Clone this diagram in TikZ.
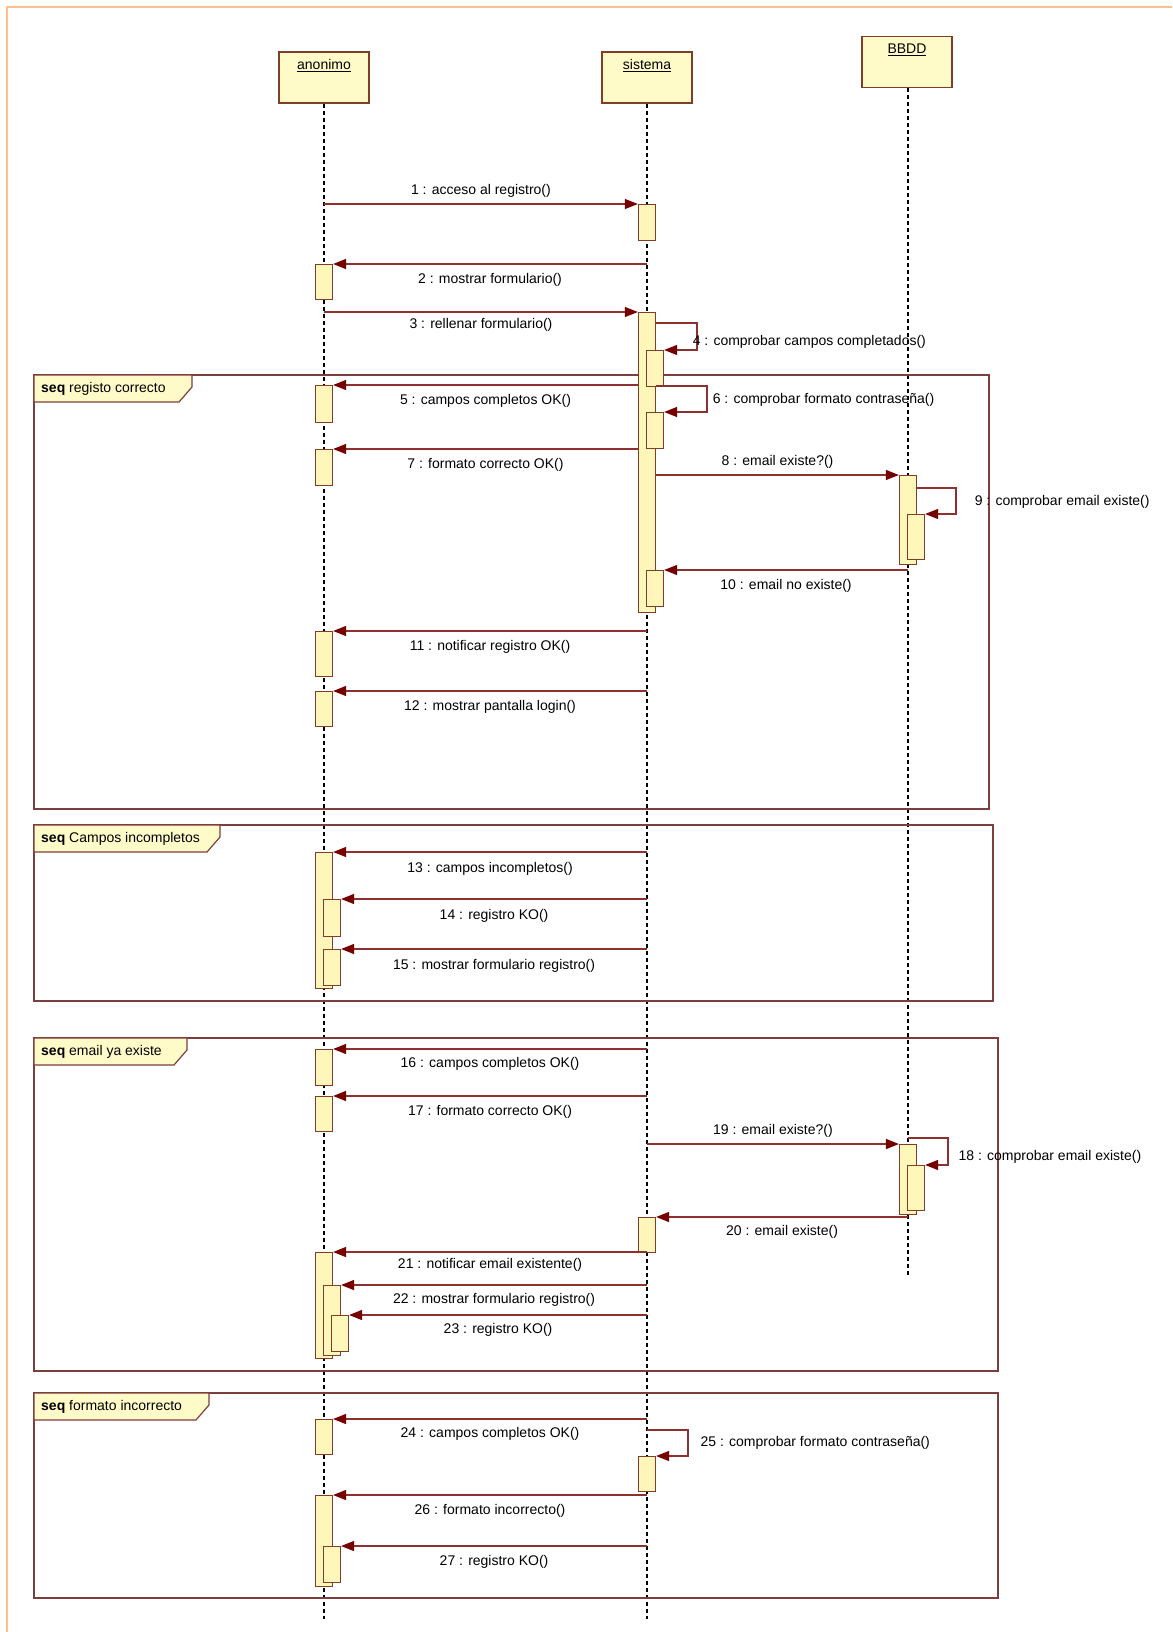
\documentclass[tikz,border=0pt]{standalone}
\usepackage{fontspec}
\setmainfont{Liberation Sans}
\usetikzlibrary{arrows.meta,positioning}
\definecolor{boxline}{RGB}{128,62,40}
\definecolor{boxfill}{RGB}{255,251,200}
\definecolor{actfill}{RGB}{255,247,185}
\definecolor{msgred}{RGB}{140,48,48}
\definecolor{tipred}{RGB}{118,0,0}
\definecolor{framered}{RGB}{125,62,62}
\definecolor{pageorange}{RGB}{255,192,142}

\begin{document}
\begin{tikzpicture}[x=1pt,y=-1pt,
        obj/.style={draw=boxline,fill=boxfill,line width=1.4pt,minimum width=90pt,minimum height=51pt,inner sep=0pt},
        act/.style={draw=boxline,fill=actfill,line width=1.2pt,minimum width=17pt,inner sep=0pt,anchor=north},
        msg/.style={draw=msgred,line width=1.3pt,-{Triangle[length=13pt,width=10pt,color=tipred]}},
        life/.style={dash pattern=on 4pt off 3pt,line width=1.1pt},
        frame/.style={draw=framered,line width=1.4pt},
        tag/.style={draw=framered,fill=boxfill,line width=1.2pt},
        lbl/.style={font=\fontsize{14}{16}\selectfont,inner sep=0pt,text height=10pt,text depth=3pt}
    ]
    \useasboundingbox (0,0) rectangle (1172,1632);
    \draw[pageorange,line width=2.5pt] (7,1632) -- (7,7) -- (1172,7);

    % --- Objects and lifelines ---
    \node[obj] (anon) at (324,77.5) {};
    \node[obj] (sis) at (647,77.5) {};
    \node[obj] (bbdd) at (907,62) {};
    \node[lbl,below=8pt of anon.north] (anonName) {\underline{anonimo}};
    \node[lbl,below=8pt of sis.north] (sisName) {\underline{sistema}};
    \node[lbl,below=8pt of bbdd.north] (bbddName) {\underline{BBDD}};
    \coordinate (anonEnd) at (324,1619);
    \coordinate (sisEnd) at (647,1619);
    \coordinate (bbddEnd) at (908,1278);
    \draw[life] (anon.south) -- (anonEnd);
    \draw[life] (sis.south) -- (sisEnd);
    \draw[life] (bbddEnd |- bbdd.south) -- (bbddEnd);

    % --- Combined fragments ---
    \draw[frame] (34,375) rectangle (989,809);
    \draw[tag] (34,375) -- (192,375) -- (192,387) -- (179,402) -- (34,402) -- cycle;
    \node[lbl,anchor=west] (seq1) at (41,389) {\textbf{seq} registo correcto};
    \draw[frame] (34,825) rectangle (993,1001);
    \draw[tag] (34,825) -- (220,825) -- (220,837) -- (207,852) -- (34,852) -- cycle;
    \node[lbl,anchor=west] (seq2) at (41,839) {\textbf{seq} Campos incompletos};
    \draw[frame] (34,1038) rectangle (998,1371);
    \draw[tag] (34,1038) -- (187,1038) -- (187,1050) -- (174,1065) -- (34,1065) -- cycle;
    \node[lbl,anchor=west] (seq3) at (41,1052) {\textbf{seq} email ya existe};
    \draw[frame] (34,1393) rectangle (998,1598);
    \draw[tag] (34,1393) -- (209,1393) -- (209,1405) -- (196,1420) -- (34,1420) -- cycle;
    \node[lbl,anchor=west] (seq4) at (41,1407) {\textbf{seq} formato incorrecto};

    % --- Activations ---
    \node[act,minimum height=35pt] (a2) at (324,264) {};
    \node[act,minimum height=37pt] (a5) at (324,385) {};
    \node[act,minimum height=36pt] (a7) at (324,449) {};
    \node[act,minimum height=45pt] (a11) at (324,631) {};
    \node[act,minimum height=35pt] (a12) at (324,691) {};
    \node[act,minimum height=136pt] (a13) at (324,852) {};
    \node[act,minimum height=37pt] (a14) at (332,899) {};
    \node[act,minimum height=36pt] (a15) at (332,949) {};
    \node[act,minimum height=36pt] (a16) at (324,1049) {};
    \node[act,minimum height=35pt] (a17) at (324,1096) {};
    \node[act,minimum height=106pt] (a21) at (324,1252) {};
    \node[act,minimum height=70pt] (a22) at (332,1285) {};
    \node[act,minimum height=36pt] (a23) at (340,1315) {};
    \node[act,minimum height=35pt] (a24) at (324,1419) {};
    \node[act,minimum height=91pt] (a26) at (324,1495) {};
    \node[act,minimum height=36pt] (a27) at (332,1546) {};
    \node[act,minimum height=36pt] (s1) at (647,204) {};
    \node[act,minimum height=300pt] (s3) at (647,312) {};
    \node[act,minimum height=36pt] (s4) at (655,350) {};
    \node[act,minimum height=36pt] (s6) at (655,412) {};
    \node[act,minimum height=36pt] (s10) at (655,570) {};
    \node[act,minimum height=35pt] (s20) at (647,1217) {};
    \node[act,minimum height=35pt] (s25) at (647,1456) {};
    \node[act,minimum height=89pt] (b8) at (908,475) {};
    \node[act,minimum height=45pt] (b9) at (916,514) {};
    \node[act,minimum height=70pt] (b19) at (908,1144) {};
    \node[act,minimum height=45pt] (b18) at (916,1165) {};

    % --- Messages: registro correcto ---
    \draw[msg] (anon |- s1.north) -- (s1.north west) node[midway,above=5.5pt,lbl] {1 : acceso al registro()};
    \draw[msg] (sis |- a2.north) -- (a2.north east) node[midway,below=8.5pt,lbl] {2 : mostrar formulario()};
    \draw[msg] (anon |- s3.north) -- (s3.north west) node[midway,below=6pt,lbl] {3 : rellenar formulario()};
    \draw[msg] (s3.east |- 0,323) -- ++(41,0) -- ++(0,27) node[pos=0.7,right=-5pt,lbl] {4 : comprobar campos completados()} -- (s4.north east);
    \draw[msg] (s3.west |- a5.north) -- (a5.north east) node[midway,below=8.5pt,lbl] {5 : campos completos OK()};
    \draw[msg] (s3.east |- 0,386) -- ++(51,0) -- ++(0,26) node[pos=0.54,right=5pt,lbl] {6 : comprobar formato contraseña()} -- (s6.north east);
    \draw[msg] (s3.west |- a7.north) -- (a7.north east) node[midway,below=8.5pt,lbl] {7 : formato correcto OK()};
    \draw[msg] (s3.east |- b8.north) -- (b8.north west) node[midway,above=5.5pt,lbl] {8 : email existe?()};
    \draw[msg] (b8.east |- 0,488) -- ++(39,0) -- ++(0,26) node[pos=0.54,right=18pt,lbl] {9 : comprobar email existe()} -- (b9.north east);
    \draw[msg] (bbddEnd |- s10.north) -- (s10.north east) node[midway,below=8.5pt,lbl] {10 : email no existe()};
    \draw[msg] (sis |- a11.north) -- (a11.north east) node[midway,below=8.5pt,lbl] {11 : notificar registro OK()};
    \draw[msg] (sis |- a12.north) -- (a12.north east) node[midway,below=8.5pt,lbl] {12 : mostrar pantalla login()};

    % --- Messages: campos incompletos ---
    \draw[msg] (sis |- a13.north) -- (a13.north east) node[midway,below=9.5pt,lbl] {13 : campos incompletos()};
    \draw[msg] (sis |- a14.north) -- (a14.north east) node[midway,below=10pt,lbl] {14 : registro KO()};
    \draw[msg] (sis |- a15.north) -- (a15.north east) node[midway,below=9.5pt,lbl] {15 : mostrar formulario registro()};

    % --- Messages: email ya existe ---
    \draw[msg] (sis |- a16.north) -- (a16.north east) node[midway,below=8pt,lbl] {16 : campos completos OK()};
    \draw[msg] (sis |- a17.north) -- (a17.north east) node[midway,below=8.5pt,lbl] {17 : formato correcto OK()};
    \draw[msg] (sis |- b19.north) -- (b19.north west) node[midway,above=5.5pt,lbl] {19 : email existe?()};
    \draw[msg] (bbddEnd |- 0,1138) -- ++(40,0) -- ++(0,27) node[pos=0.7,right=10pt,lbl] {18 : comprobar email existe()} -- (b18.north east);
    \draw[msg] (bbddEnd |- s20.north) -- (s20.north east) node[midway,below=8pt,lbl] {20 : email existe()};
    \draw[msg] (sis |- a21.north) -- (a21.north east) node[midway,below=6pt,lbl] {21 : notificar email existente()};
    \draw[msg] (sis |- a22.north) -- (a22.north east) node[midway,below=8pt,lbl] {22 : mostrar formulario registro()};
    \draw[msg] (sis |- a23.north) -- (a23.north east) node[midway,below=8pt,lbl] {23 : registro KO()};

    % --- Messages: formato incorrecto ---
    \draw[msg] (sis |- a24.north) -- (a24.north east) node[midway,below=8pt,lbl] {24 : campos completos OK()};
    \draw[msg] (sis |- 0,1430) -- ++(41,0) -- ++(0,26) node[pos=0.5,right=12pt,lbl] {25 : comprobar formato contraseña()} -- (s25.north east);
    \draw[msg] (sis |- a26.north) -- (a26.north east) node[midway,below=8.5pt,lbl] {26 : formato incorrecto()};
    \draw[msg] (sis |- a27.north) -- (a27.north east) node[midway,below=8.5pt,lbl] {27 : registro KO()};

\end{tikzpicture}
\end{document}
